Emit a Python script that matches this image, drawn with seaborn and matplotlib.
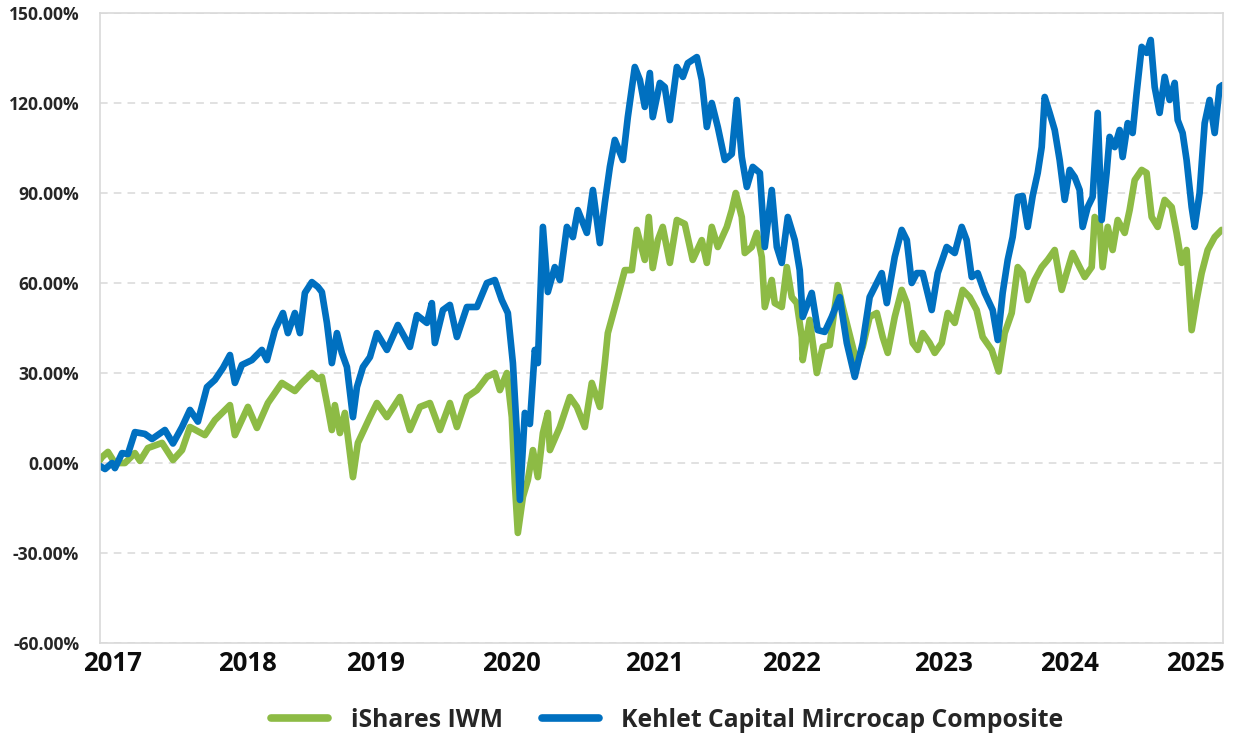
import numpy as np
import pandas as pd
import matplotlib
matplotlib.use("Agg")
import matplotlib.pyplot as plt
import seaborn as sns
from matplotlib.ticker import FuncFormatter

# ---------------- data (decimal year, cumulative return in %) ----------------
iwm_year = [
    2017.000, 2017.015, 2017.058, 2017.109, 2017.182, 2017.255, 2017.292, 2017.350, 2017.453, 2017.533,
    2017.599, 2017.657, 2017.766, 2017.839, 2017.949, 2017.985, 2018.080, 2018.146, 2018.226, 2018.328,
    2018.423, 2018.474, 2018.547, 2018.591, 2018.620, 2018.657, 2018.693, 2018.715, 2018.752, 2018.788,
    2018.847, 2018.883, 2018.971, 2019.022, 2019.095, 2019.190, 2019.263, 2019.336, 2019.409, 2019.482,
    2019.555, 2019.606, 2019.679, 2019.752, 2019.825, 2019.883, 2019.920, 2019.971, 2020.007, 2020.029,
    2020.051, 2020.088, 2020.124, 2020.161, 2020.197, 2020.234, 2020.270, 2020.285, 2020.358, 2020.431,
    2020.482, 2020.540, 2020.591, 2020.650, 2020.686, 2020.708, 2020.774, 2020.832, 2020.883, 2020.920,
    2020.978, 2021.007, 2021.036, 2021.073, 2021.109, 2021.161, 2021.212, 2021.270, 2021.328, 2021.394,
    2021.431, 2021.467, 2021.511, 2021.577, 2021.613, 2021.642, 2021.686, 2021.708, 2021.759, 2021.796,
    2021.832, 2021.854, 2021.905, 2021.927, 2021.978, 2022.015, 2022.051, 2022.088, 2022.124, 2022.131,
    2022.182, 2022.234, 2022.277, 2022.328, 2022.387, 2022.423, 2022.489, 2022.526, 2022.569, 2022.620,
    2022.672, 2022.715, 2022.752, 2022.803, 2022.854, 2022.891, 2022.934, 2022.971, 2023.007, 2023.058,
    2023.095, 2023.146, 2023.190, 2023.241, 2023.299, 2023.350, 2023.401, 2023.445, 2023.511, 2023.562,
    2023.606, 2023.657, 2023.701, 2023.737, 2023.774, 2023.825, 2023.876, 2023.920, 2023.971, 2024.022,
    2024.058, 2024.102, 2024.153, 2024.190, 2024.241, 2024.263, 2024.299, 2024.321, 2024.358, 2024.394,
    2024.431, 2024.482, 2024.518, 2024.555, 2024.606, 2024.642, 2024.679, 2024.723, 2024.774, 2024.825,
    2024.861, 2024.898, 2024.934, 2024.971, 2025.007, 2025.044, 2025.088, 2025.139, 2025.190,
]
iwm_return = [
    1, 2, 3.7, 0, 0, 3.3, 0.7, 5, 6.7, 1,
    4.3, 12, 9.3, 14.3, 19.3, 9.3, 18.7, 11.7, 20, 26.7,
    24, 26.7, 30, 28, 28.7, 20, 11, 19.3, 10, 16.7,
    -4.7, 6.7, 15.3, 20, 15.3, 22, 11, 18.7, 20, 11,
    20, 12, 22, 24.3, 28.7, 30, 24.3, 30, 15.3, -6.7,
    -23.3, -11.3, -5.7, 4.3, -4.7, 10, 16.7, 4.3, 12, 22,
    18.7, 12, 26.7, 18.7, 33.3, 43.3, 54.3, 64.3, 64.3, 77.7,
    67.7, 82, 65, 74.3, 78.7, 66.7, 81, 79.7, 67.7, 74.3,
    66.7, 78.7, 72, 78.7, 84.3, 90, 82, 70, 72, 76.7,
    68.7, 52, 61, 53.3, 52, 65.3, 55.3, 53.3, 42, 34.3,
    47.7, 30, 38.7, 39.3, 59.3, 52, 40, 33.3, 38.7, 48.7,
    50, 42, 36.7, 48.7, 57.7, 53.3, 40, 37.7, 43.3, 40,
    36.7, 40, 50, 46.7, 57.7, 55.3, 51, 42, 37.7, 30.5,
    43.3, 50, 65.3, 63.3, 54.3, 61, 65.3, 67.7, 71, 57.7,
    63.3, 70, 65.3, 62, 65.3, 82, 80, 65.3, 78.7, 71,
    81, 76.7, 84.3, 94.3, 97.7, 96.7, 82, 78.7, 87.7, 85.3,
    76.7, 66.7, 71, 44.3, 54.3, 63.3, 71, 75.3, 77.7,
]

kehlet_year = [
    2017.000, 2017.037, 2017.088, 2017.109, 2017.161, 2017.204, 2017.255, 2017.328, 2017.380, 2017.474,
    2017.533, 2017.599, 2017.657, 2017.715, 2017.781, 2017.839, 2017.898, 2017.949, 2017.985, 2018.036,
    2018.109, 2018.182, 2018.219, 2018.277, 2018.336, 2018.372, 2018.423, 2018.460, 2018.496, 2018.547,
    2018.591, 2018.620, 2018.657, 2018.693, 2018.730, 2018.766, 2018.803, 2018.847, 2018.876, 2018.920,
    2018.971, 2019.022, 2019.095, 2019.175, 2019.263, 2019.314, 2019.387, 2019.423, 2019.445, 2019.504,
    2019.555, 2019.606, 2019.679, 2019.752, 2019.825, 2019.883, 2019.934, 2019.978, 2020.015, 2020.044,
    2020.066, 2020.102, 2020.139, 2020.175, 2020.197, 2020.234, 2020.270, 2020.321, 2020.358, 2020.409,
    2020.453, 2020.489, 2020.555, 2020.599, 2020.650, 2020.686, 2020.723, 2020.759, 2020.818, 2020.854,
    2020.905, 2020.942, 2020.978, 2021.015, 2021.036, 2021.088, 2021.124, 2021.161, 2021.212, 2021.256,
    2021.292, 2021.358, 2021.394, 2021.431, 2021.467, 2021.511, 2021.562, 2021.613, 2021.650, 2021.686,
    2021.723, 2021.766, 2021.818, 2021.854, 2021.905, 2021.942, 2021.978, 2022.022, 2022.073, 2022.109,
    2022.131, 2022.197, 2022.241, 2022.292, 2022.343, 2022.401, 2022.453, 2022.511, 2022.569, 2022.620,
    2022.672, 2022.708, 2022.745, 2022.803, 2022.854, 2022.891, 2022.927, 2022.964, 2023.007, 2023.073,
    2023.117, 2023.182, 2023.241, 2023.292, 2023.328, 2023.365, 2023.409, 2023.460, 2023.518, 2023.555,
    2023.591, 2023.628, 2023.664, 2023.701, 2023.737, 2023.774, 2023.810, 2023.847, 2023.876, 2023.898,
    2023.934, 2023.971, 2024.007, 2024.044, 2024.080, 2024.117, 2024.153, 2024.175, 2024.212, 2024.248,
    2024.285, 2024.314, 2024.350, 2024.372, 2024.409, 2024.445, 2024.467, 2024.504, 2024.540, 2024.569,
    2024.606, 2024.642, 2024.672, 2024.701, 2024.737, 2024.774, 2024.810, 2024.847, 2024.869, 2024.905,
    2024.934, 2024.971, 2024.993, 2025.029, 2025.066, 2025.102, 2025.139, 2025.175, 2025.197,
]
kehlet_return = [
    -1, -2, 0, -1.7, 3.3, 3, 10.3, 9.7, 8, 11,
    6.5, 12, 17.7, 13.8, 25.3, 27.7, 31.7, 36, 26.7, 32.7,
    34.3, 37.7, 34.3, 44.3, 50, 43.3, 50, 43.3, 56.7, 60.3,
    58.7, 57, 46.7, 33.3, 43.3, 36.7, 32, 15.3, 25.3, 32,
    35.3, 43.3, 37.7, 46, 38.7, 49.3, 46.7, 53.3, 40, 51,
    52.7, 42, 52, 52, 60, 61, 54.3, 50, 33.3, 10,
    -12.3, 16.7, 13, 37.7, 33.3, 78.7, 57, 65.3, 61, 78.7,
    75.3, 84.3, 76.7, 91, 73.3, 86.7, 98.7, 107.7, 101, 115.3,
    132, 127.7, 118.7, 130, 115.3, 126.7, 125.3, 114.3, 132, 128.7,
    133.3, 135.3, 127.7, 112, 120, 112, 101, 103, 121, 102,
    92, 98.7, 96.7, 72, 91, 72, 66.7, 82, 74.3, 64.3,
    48.7, 56.7, 44.3, 43.7, 48.7, 55.3, 40, 28.7, 40, 55.3,
    60, 63.3, 53.3, 68.7, 77.7, 74.3, 60, 63.3, 63.3, 51,
    63.3, 72, 70, 78.7, 74.3, 62, 63.3, 56.7, 51, 41,
    56.7, 67.7, 75.3, 88.7, 89, 78.7, 89, 96.7, 105.3, 122,
    116.7, 111, 101, 87.7, 97.7, 95.3, 91, 78.7, 85.3, 88.7,
    116.7, 81, 96.7, 108.7, 105.3, 111, 102, 113.3, 110, 123.3,
    138.7, 136.7, 141, 125.3, 116.7, 128.7, 121, 126.7, 114.3, 110,
    101, 85.3, 78.7, 90, 113.3, 121, 110, 125.3, 126,
]

series_names = ["iShares IWM", "Kehlet Capital Mircrocap Composite"]
year_labels = ["2017", "2018", "2019", "2020", "2021", "2022", "2023", "2024", "2025"]
y_ticks = [-60, -30, 0, 30, 60, 90, 120, 150]

# ---------------- build long table ----------------
df = pd.concat([
    pd.DataFrame({"year": iwm_year, "ret": iwm_return, "series": series_names[0]}),
    pd.DataFrame({"year": kehlet_year, "ret": kehlet_return, "series": series_names[1]}),
], ignore_index=True)

# ---------------- style ----------------
sns.set_theme(style="white")
plt.rcParams["font.family"] = ["Open Sans", "DejaVu Sans"]

GREEN = "#8DBB45"
BLUE = "#0070C0"

fig = plt.figure(figsize=(12.36, 7.38), dpi=100)
ax = fig.add_axes([0.0809, 0.1287, 0.9086, 0.8537])

sns.lineplot(data=df, x="year", y="ret", hue="series", hue_order=series_names,
             palette=[GREEN, BLUE], linewidth=4.8, estimator=None, sort=False,
             ax=ax, legend=True)

ax.set_xlim(2017.0, 2025.2)
ax.set_ylim(-60, 150)
ax.set_yticks(y_ticks)
ax.yaxis.set_major_formatter(FuncFormatter(lambda v, p: f"{v:.2f}%"))

# tick label positions as they fall in the reference axis
tick_pos = [2017.09, 2018.08, 2019.015, 2020.005, 2021.05, 2022.05, 2023.16, 2024.08, 2025.0]
ax.set_xticks(tick_pos)
ax.set_xticklabels(year_labels)

for lbl in ax.get_yticklabels():
    lbl.set_fontsize(12.6)
    lbl.set_fontweight("bold")
    lbl.set_color("#262626")
for lbl in ax.get_xticklabels():
    lbl.set_fontsize(18.5)
    lbl.set_fontweight("bold")
    lbl.set_color("#0d0d0d")

ax.tick_params(axis="both", length=0)
ax.tick_params(axis="y", pad=15)
ax.tick_params(axis="x", pad=5)
ax.set_xlabel("")
ax.set_ylabel("")

# grid: dashed light gray horizontal lines
ax.yaxis.grid(True, linestyle=(0, (5, 4)), color="#D9D9D9", linewidth=1.1)
ax.xaxis.grid(False)
ax.set_axisbelow(True)
for s in ax.spines.values():
    s.set_visible(True)
    s.set_color("#D9D9D9")
    s.set_linewidth(1.2)

# legend at the bottom
handles, labels = ax.get_legend_handles_labels()
for h in handles:
    h.set_linewidth(5.5)
ax.legend(handles, labels, loc="center", bbox_to_anchor=(0.54, 0.024),
          bbox_transform=fig.transFigure, ncol=2, frameon=False,
          handlelength=2.3, handletextpad=0.9, columnspacing=1.6,
          prop={"family": ["Open Sans", "DejaVu Sans"], "weight": "bold", "size": 17.8})

fig.savefig("out.png", dpi=100)
